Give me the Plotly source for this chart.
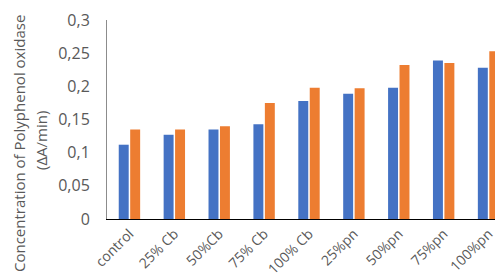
import plotly.graph_objects as go

categories = ["control", "25% Cb", "50%Cb", "75% Cb", "100% Cb", "25%pn", "50%pn", "75%pn", "100%pn"]
series_blue = [0.112, 0.127, 0.135, 0.143, 0.178, 0.189, 0.198, 0.239, 0.228]
series_orange = [0.135, 0.135, 0.140, 0.175, 0.198, 0.197, 0.232, 0.235, 0.253]
y_tick_vals = [0, 0.05, 0.1, 0.15, 0.2, 0.25, 0.3]
y_tick_text = ["0", "0,05", "0,1", "0,15", "0,2", "0,25", "0,3"]
y_title_lines = ["Concentration of Polyphenol oxidase", "(ΔA/min)"]

font_family = "Open Sans, Liberation Sans, Arial, sans-serif"
text_color = "#595959"

fig = go.Figure()
fig.add_trace(go.Bar(x=categories, y=series_blue, marker=dict(color="#4472C4", line=dict(width=0)), showlegend=False))
fig.add_trace(go.Bar(x=categories, y=series_orange, marker=dict(color="#ED7D31", line=dict(width=0)), showlegend=False))

fig.update_layout(
    width=503, height=280,
    margin=dict(l=99, r=0, t=12, b=69),
    paper_bgcolor="white", plot_bgcolor="white",
    barmode="group", bargap=0.49, bargroupgap=0.13,
    font=dict(family=font_family, size=15, color=text_color),
)
fig.update_xaxes(
    showline=True, linecolor="#000000", linewidth=1.3,
    showgrid=False, ticks="", tickangle=-45, automargin=False,
    ticklabelstandoff=0,
    tickfont=dict(size=14, color=text_color),
)
fig.update_yaxes(
    range=[0, 0.3], showline=True, linecolor="#8c8c8c", linewidth=1,
    showgrid=False, zeroline=False, ticks="", automargin=False,
    tickvals=y_tick_vals, ticktext=y_tick_text,
    ticklabelstandoff=13,
    tickfont=dict(size=16, color=text_color),
)
fig.add_annotation(text=y_title_lines[0], xref="paper", yref="paper",
                   x=-99/404 + 11/404, y=(211-136)/199, xanchor="center", yanchor="middle",
                   textangle=-90, showarrow=False, font=dict(size=15, color=text_color))
fig.add_annotation(text=y_title_lines[1], xref="paper", yref="paper",
                   x=-99/404 + 33/404, y=(211-133)/199, xanchor="center", yanchor="middle",
                   textangle=-90, showarrow=False, font=dict(size=15, color=text_color))

fig.write_html("out.html")
